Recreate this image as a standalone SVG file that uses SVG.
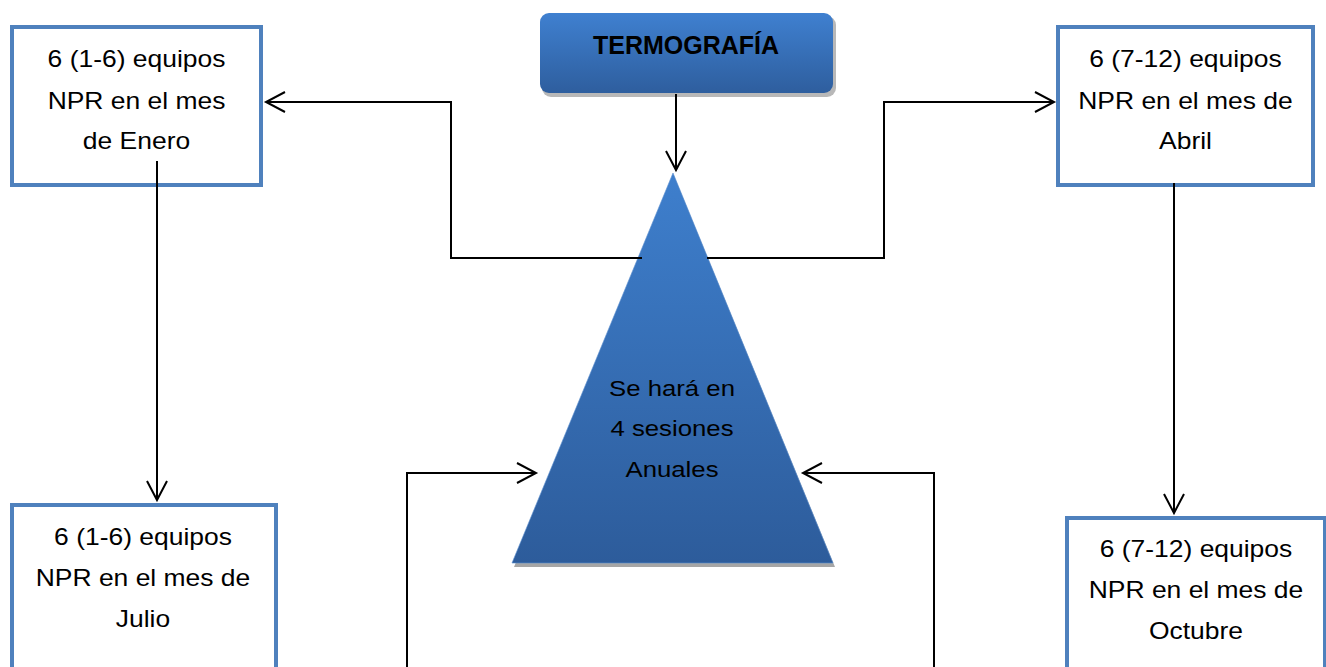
<svg xmlns="http://www.w3.org/2000/svg" width="1326" height="667" viewBox="0 0 1326 667">
<style>
.box{fill:#ffffff;stroke:#4f81bd;stroke-width:4}
.t{font-family:"Liberation Sans",Arial,sans-serif;font-size:23px;fill:#000;text-anchor:middle}
.title{font-family:"Liberation Sans",Arial,sans-serif;font-size:25px;font-weight:bold;fill:#000;text-anchor:middle}
.c{fill:none;stroke:#000;stroke-width:2}
</style>
<defs>
<linearGradient id="gT" x1="0" y1="0" x2="0" y2="1">
<stop offset="0" stop-color="#3f80d0"/>
<stop offset="1" stop-color="#2e5e9e"/>
</linearGradient>
<linearGradient id="gTri" x1="0" y1="0" x2="0" y2="1">
<stop offset="0" stop-color="#3e7fcd"/>
<stop offset="1" stop-color="#2d5c9b"/>
</linearGradient>
<marker id="arr" markerUnits="userSpaceOnUse" markerWidth="24" markerHeight="24" viewBox="-21 -12 24 24" refX="0" refY="0" orient="auto">
<path d="M-19,-10 L0,0 L-19,10" fill="none" stroke="#000" stroke-width="2"/>
</marker>
</defs>

<g id="title">
<rect x="542" y="16" width="294" height="81" rx="9" fill="#9a9a9a" opacity="0.7"/>
<rect x="540" y="13" width="293" height="80" rx="9" fill="url(#gT)"/>
<text class="title" x="686" y="54">TERMOGRAFÍA</text>
</g>

<g id="triangle">
<polygon points="674,176 514,567 835,567" fill="#a6a6a6"/>
<polygon points="673,173 512,563 833,563" fill="url(#gTri)" stroke="#5b8fd0" stroke-width="1" stroke-opacity="0.6"/>
<text class="t" transform="translate(672 0) scale(1.12 1)"><tspan x="0" y="396">Se hará en</tspan><tspan x="0" y="436">4 sesiones</tspan><tspan x="0" y="477">Anuales</tspan></text>
</g>

<g id="box-enero">
<rect class="box" x="12" y="27" width="249" height="158"/>
<text class="t" transform="translate(136.5 0) scale(1.15 1)"><tspan x="0" y="67">6 (1-6) equipos</tspan><tspan x="0" y="109">NPR en el mes</tspan><tspan x="0" y="149">de Enero</tspan></text>
</g>

<g id="box-abril">
<rect class="box" x="1058" y="27" width="255" height="158"/>
<text class="t" transform="translate(1185.5 0) scale(1.15 1)"><tspan x="0" y="67">6 (7-12) equipos</tspan><tspan x="0" y="109">NPR en el mes de</tspan><tspan x="0" y="149">Abril</tspan></text>
</g>

<g id="box-julio">
<rect class="box" x="12" y="505" width="264" height="180"/>
<text class="t" transform="translate(143 0) scale(1.15 1)"><tspan x="0" y="545">6 (1-6) equipos</tspan><tspan x="0" y="586">NPR en el mes de</tspan><tspan x="0" y="627">Julio</tspan></text>
</g>

<g id="box-octubre">
<rect class="box" x="1067" y="518" width="258" height="180"/>
<text class="t" transform="translate(1196 0) scale(1.15 1)"><tspan x="0" y="557">6 (7-12) equipos</tspan><tspan x="0" y="598">NPR en el mes de</tspan><tspan x="0" y="639">Octubre</tspan></text>
</g>

<g id="connectors">
<path class="c" d="M676,94 V170" marker-end="url(#arr)"/>
<path class="c" d="M642,258 H451 V102 H266" marker-end="url(#arr)"/>
<path class="c" d="M707,258 H884 V102 H1054" marker-end="url(#arr)"/>
<path class="c" d="M157,161 V500" marker-end="url(#arr)"/>
<path class="c" d="M1174,183 V513" marker-end="url(#arr)"/>
<path class="c" d="M407,667 V473 H536" marker-end="url(#arr)"/>
<path class="c" d="M934,667 V473 H803" marker-end="url(#arr)"/>
</g>
</svg>
